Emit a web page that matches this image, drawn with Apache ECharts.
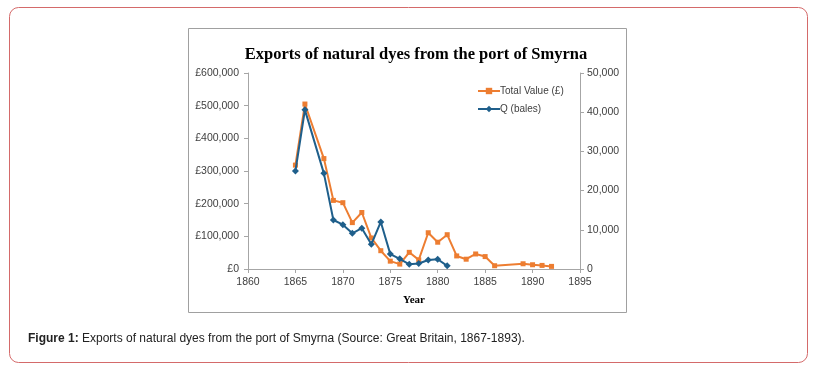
<!DOCTYPE html>
<html><head><meta charset="utf-8">
<script src="https://cdn.jsdelivr.net/npm/echarts@6/dist/echarts.min.js"></script>
<style>html,body{margin:0;padding:0;background:#fff;}#c{width:816px;height:371px;}</style>
</head><body><div id="c"></div>
<script>
var years = [1865,1866,1867,1868,1869,1870,1871,1872,1873,1874,1875,1876,1877,1878,1879,1880,1881,1882,1883,1884,1885,1886,1887,1888,1889,1890,1891,1892];
var totalValue = [318000,505000,null,338000,210000,203000,142000,173000,95000,56000,24000,15000,51000,28000,111000,82000,105000,40000,30000,46000,38000,10000,null,null,16000,13000,11000,8000];
var bales = [25000,40600,null,24400,12500,11300,9100,10400,6300,12000,3800,2600,1200,1400,2300,2500,800,null,null,null,null,null,null,null,null,null,null,null];
var xTicks = [1860,1865,1870,1875,1880,1885,1890,1895];
var leftTicks = [0,100000,200000,300000,400000,500000,600000];
var rightTicks = [0,10000,20000,30000,40000,50000];
var titleText = 'Exports of natural dyes from the port of Smyrna';
var captionBold = 'Figure 1:';
var captionText = ' Exports of natural dyes from the port of Smyrna (Source: Great Britain, 1867-1893).';

function pairs(vals){var o=[];for(var i=0;i<years.length;i++){if(vals[i]!==null)o.push([years[i],vals[i]]);}return o;}
function fmt(n){return n.toString().replace(/\B(?=(\d{3})+(?!\d))/g, ',');}

var chart = echarts.init(document.getElementById('c'), null, {renderer:'canvas'});
var axisLabel = {color:'#404040', fontFamily:'Liberation Sans', fontSize:10.5};
var axisLine = {show:true, lineStyle:{color:'#a6a6a6', width:1}};
var axisTick = {show:true, inside:false, length:4, lineStyle:{color:'#a6a6a6'}};
chart.setOption({
  animation:false,
  title:{text:titleText, left:411, top:41, textAlign:'center',
    textStyle:{fontFamily:'Liberation Serif', fontWeight:'bold', fontSize:16.5, color:'#000'}},
  graphic:[
    {type:'rect', shape:{x:9.5, y:7.5, width:798, height:355, r:9}, style:{fill:'none', stroke:'#d46a6a', lineWidth:1}, z:-1},
    {type:'rect', shape:{x:188.5, y:28.5, width:438, height:284}, style:{fill:'none', stroke:'#a0a0a0', lineWidth:1}, z:-1},
    {type:'text', left:28, top:333, style:{rich:{b:{fontWeight:'bold', fontFamily:'Liberation Sans', fontSize:12, fill:'#222'}, n:{fontFamily:'Liberation Sans', fontSize:12, fill:'#222'}}, text:'{b|'+captionBold+'}{n|'+captionText+'}'}}
  ],
  legend:{orient:'vertical', left:472, top:81, itemWidth:22, itemHeight:8, itemGap:8,
    textStyle:{fontFamily:'Liberation Sans', fontSize:10, color:'#404040', padding:[0,0,0,-5]},
    data:['Total Value (£)','Q (bales)']},
  grid:{left:248, right:236, top:73, bottom:102, containLabel:false},
  xAxis:{type:'value', min:xTicks[0], max:xTicks[xTicks.length-1], interval:5,
    name:'Year', nameLocation:'middle', nameGap:26,
    nameTextStyle:{fontFamily:'Liberation Serif', fontWeight:'bold', fontSize:11, color:'#000'},
    axisLine:axisLine, axisTick:axisTick, splitLine:{show:false},
    axisLabel:Object.assign({}, axisLabel, {margin:8, formatter:function(v){return String(v);}})},
  yAxis:[
    {type:'value', min:leftTicks[0], max:leftTicks[leftTicks.length-1], interval:100000,
     axisLine:axisLine, axisTick:axisTick, splitLine:{show:false},
     axisLabel:Object.assign({}, axisLabel, {margin:9, formatter:function(v){return '£'+fmt(v);}})},
    {type:'value', min:rightTicks[0], max:rightTicks[rightTicks.length-1], interval:10000, position:'right',
     axisLine:axisLine, axisTick:axisTick, splitLine:{show:false},
     axisLabel:Object.assign({}, axisLabel, {margin:7, formatter:function(v){return fmt(v);}})}
  ],
  series:[
    {name:'Total Value (£)', type:'line', yAxisIndex:0, data:pairs(totalValue),
     symbol:'rect', symbolSize:5, color:'#ED7D31',
     lineStyle:{width:2, color:'#ED7D31'}, itemStyle:{color:'#ED7D31'}, z:2},
    {name:'Q (bales)', type:'line', yAxisIndex:1, data:pairs(bales),
     symbol:'diamond', symbolSize:7, color:'#1F5F8B',
     lineStyle:{width:2, color:'#1F5F8B'}, itemStyle:{color:'#1F5F8B'}, z:3}
  ]
});
</script></body></html>
